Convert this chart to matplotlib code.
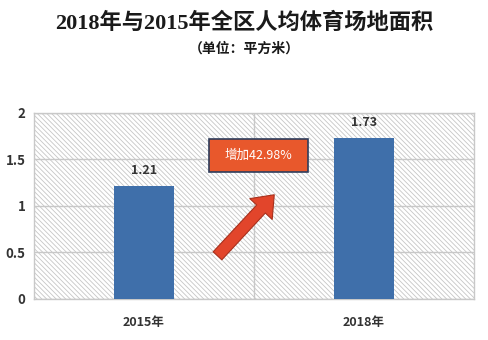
import matplotlib.pyplot as plt
from matplotlib.patches import Rectangle

plt.rcParams['font.family'] = ['Noto Sans CJK SC', 'DejaVu Sans']
plt.rcParams['hatch.linewidth'] = 0.6

years = ['2015年', '2018年']
area = [1.21, 1.73]
growth = (area[1] - area[0]) / area[0] * 100

fig = plt.figure(figsize=(4.88, 3.40), dpi=100)
ax = fig.add_axes([0.0697, 0.1206, 0.9016, 0.5474])

# hatched background of the plot area
ax.add_patch(Rectangle((0, 0), 1, 1, transform=ax.transAxes, facecolor='white',
                       edgecolor='#c6c6c6', linewidth=0, hatch='\\' * 7, zorder=0))

x = range(len(years))
ax.bar(x, area, width=0.27, color='#3f6faa', zorder=3)
for i, v in zip(x, area):
    ax.text(i, v + 0.1, f'{v:.2f}', ha='center', va='bottom', fontsize=9,
            fontweight='bold', color='#333333', zorder=4)

ax.set_xlim(-0.5, 1.5)
ax.set_ylim(0, 2)
ax.set_yticks([0, 0.5, 1, 1.5, 2])
ax.set_yticklabels(['0', '0.5', '1', '1.5', '2'])
ax.set_xticks(list(x))
ax.set_xticklabels(years)
ax.set_xticks([0.5], minor=True)
ax.tick_params(axis='both', which='both', length=0, labelsize=9.5, colors='#333333', pad=6)
ax.tick_params(axis='x', labelsize=9, pad=12)
for lab in ax.get_xticklabels() + ax.get_yticklabels():
    lab.set_fontweight('bold')
ax.grid(axis='y', color='#c8c8c8', linewidth=1, zorder=1)
ax.grid(axis='x', which='minor', color='#c8c8c8', linewidth=1, zorder=1)
for s in ax.spines.values():
    s.set_color('#c8c8c8')
    s.set_linewidth(1)

# growth callout box and arrow
ax.add_patch(Rectangle((0.398, 0.683), 0.225, 0.177, transform=ax.transAxes,
                       facecolor='#e8582c', edgecolor='#2e3d5c', linewidth=1.2, zorder=5))
ax.text(0.5105, 0.7715, f'增加{growth:.2f}%', transform=ax.transAxes, ha='center',
        va='center', color='white', fontsize=9, zorder=6)
ax.annotate('', xy=(0.546, 0.56), xytext=(0.417, 0.232),
            xycoords='axes fraction', textcoords='axes fraction',
            arrowprops=dict(arrowstyle='simple,head_width=2.2,head_length=1.4,tail_width=0.85',
                            mutation_scale=10, facecolor='#e2452b', edgecolor='#a8301c',
                            linewidth=0.8, shrinkA=0, shrinkB=0),
            zorder=5)

fig.text(0.5, 0.932, '2018年与2015年全区人均体育场地面积', ha='center', va='center',
         fontsize=16, fontweight='bold', color='#1a1a1a',
         family=['Liberation Serif', 'Noto Sans CJK SC'])
fig.text(0.5, 0.858, '（单位：平方米）', ha='center', va='center', fontsize=10,
         fontweight='bold', color='#1a1a1a')

fig.savefig('out.png', dpi=100)
